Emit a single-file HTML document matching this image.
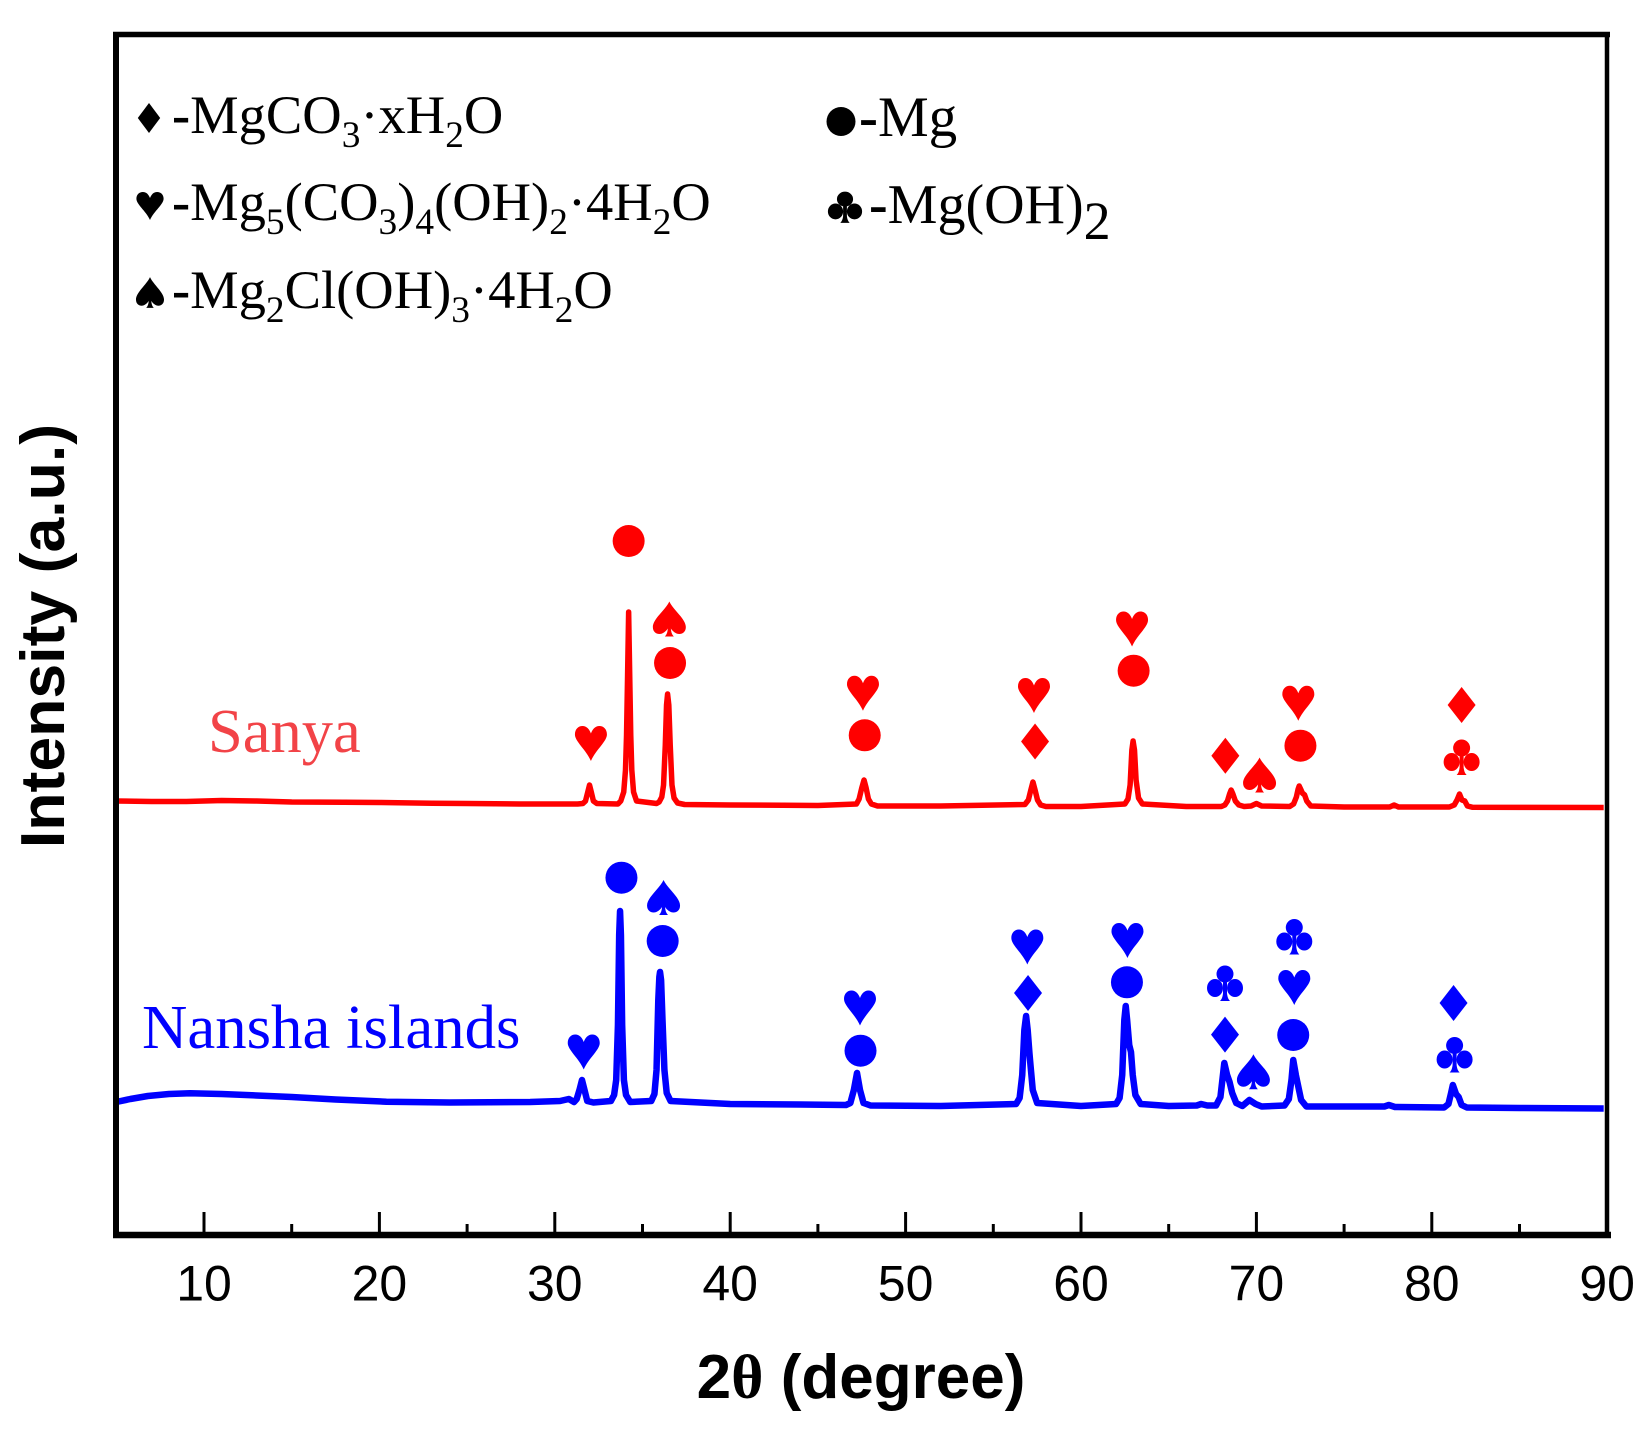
<!DOCTYPE html>
<html lang="en">
<head>
<meta charset="utf-8">
<title>XRD patterns of Sanya and Nansha islands samples</title>
<style>
html,body{margin:0;padding:0;background:#fff;}
svg{display:block;}
.serif{font-family:"Liberation Serif",serif;fill:#000;}
.sub{font-size:37px;}
</style>
</head>
<body>
<svg id="chart" xmlns="http://www.w3.org/2000/svg" width="1648" height="1435" viewBox="0 0 1648 1435">
  <rect x="0" y="0" width="1648" height="1435" fill="#fff"/>
  <g id="series-layer"></g>
  <g id="marker-layer"></g>
  <g id="axis-layer"></g>
  <g stroke="#000" fill="none">
    <line x1="113" y1="34.5" x2="1610" y2="34.5" stroke-width="5.5"/>
    <line x1="116" y1="32" x2="116" y2="1238" stroke-width="6"/>
    <line x1="1607" y1="32" x2="1607" y2="1238" stroke-width="4.5"/>
    <line x1="113" y1="1235" x2="1611" y2="1235" stroke-width="6.5"/>
  </g>

  <text transform="translate(64,636) rotate(-90)" text-anchor="middle" font-family="'Liberation Sans',sans-serif" font-weight="700" font-size="62.6" fill="#000">Intensity (a.u.)</text>
  <text x="861" y="1398" text-anchor="middle" font-family="'Liberation Sans',sans-serif" font-weight="700" font-size="62" fill="#000">2<tspan font-family="'Liberation Serif',serif">θ</tspan> (degree)</text>

  <text x="208" y="752" font-family="'Liberation Serif',serif" font-size="62.5" fill="#f24347">Sanya</text>
  <text x="142" y="1048" font-family="'Liberation Serif',serif" font-size="62.8" fill="#0000ff">Nansha islands</text>

  <g>
    <path transform="translate(149,118) scale(.8,.83)" d="M0,-18 L14,0 L0,18 L-14,0Z" fill="#000"/>
    <text class="serif" transform="translate(172,133) scale(1.01,1)" font-size="54"><tspan font-weight="700">-</tspan>MgCO<tspan class="sub" dy="14">3</tspan><tspan dy="-14">·xH</tspan><tspan class="sub" dy="14">2</tspan><tspan dy="-14">O</tspan></text>

    <path transform="translate(150,206) scale(.85,.8)" d="M0,17.5 C-5,6 -16,-2 -16,-9 C-16,-14.5 -12.5,-17.5 -8.5,-17.5 C-4,-17.5 -1.5,-14 0,-10 C1.5,-14 4,-17.5 8.5,-17.5 C12.5,-17.5 16,-14.5 16,-9 C16,-2 5,6 0,17.5Z" fill="#000"/>
    <text class="serif" transform="translate(172,220) scale(1.01,1)" font-size="54"><tspan font-weight="700">-</tspan>Mg<tspan class="sub" dy="14">5</tspan><tspan dy="-14">(CO</tspan><tspan class="sub" dy="14">3</tspan><tspan dy="-14">)</tspan><tspan class="sub" dy="14">4</tspan><tspan dy="-14">(OH)</tspan><tspan class="sub" dy="14">2</tspan><tspan dy="-14">·4H</tspan><tspan class="sub" dy="14">2</tspan><tspan dy="-14">O</tspan></text>

    <path transform="translate(150,292.5) scale(.85,.88)" d="M0,-17.5 C4,-9 16.5,0 16.5,8 C16.5,13 13,15 10,15 C6.5,15 3.5,12.5 1.5,9.5 C1.8,13 2.5,15.5 4.5,17.5 L-4.5,17.5 C-2.5,15.5 -1.8,13 -1.5,9.5 C-3.5,12.5 -6.5,15 -10,15 C-13,15 -16.5,13 -16.5,8 C-16.5,0 -4,-9 0,-17.5Z" fill="#000"/>
    <text class="serif" transform="translate(172,308) scale(1.01,1)" font-size="54"><tspan font-weight="700">-</tspan>Mg<tspan class="sub" dy="14">2</tspan><tspan dy="-14">Cl(OH)</tspan><tspan class="sub" dy="14">3</tspan><tspan dy="-14">·4H</tspan><tspan class="sub" dy="14">2</tspan><tspan dy="-14">O</tspan></text>

    <circle cx="841" cy="121.5" r="14.5" fill="#000"/>
    <text class="serif" transform="translate(859,136)" font-size="57"><tspan font-weight="700">-</tspan>Mg</text>

    <path transform="translate(845,207.5) scale(.95,.88)" d="M-8.5,-9.5 a8.5,8.5 0 1,1 17,0 a8.5,8.5 0 1,1 -17,0Z M-18,4.5 a8,9 0 1,1 16,0 a8,9 0 1,1 -16,0Z M2,4.5 a8,9 0 1,1 16,0 a8,9 0 1,1 -16,0Z M-2,-4 L2,-4 L2,10 C2.5,14 3.5,16 5,17.5 L-5,17.5 C-3.5,16 -2.5,14 -2,10Z" fill="#000"/>
    <text class="serif" transform="translate(869,223)" font-size="56"><tspan font-weight="700">-</tspan>Mg(OH)<tspan font-size="54" dy="16">2</tspan></text>
  </g>

<script>
// X axis
var xTicksMajor = [10, 20, 30, 40, 50, 60, 70, 80, 90];
var xTicksMinor = [15, 25, 35, 45, 55, 65, 75, 85];
var xTickLabels = ["10", "20", "30", "40", "50", "60", "70", "80", "90"];

// Sanya pattern
var sanyaTheta = [5, 7, 9, 11, 13, 15, 18, 20, 23, 25, 28, 30, 31.3, 31.6, 31.75, 31.88, 31.98, 32.08, 32.2, 32.4, 33.6, 33.76, 33.93, 34.03, 34.09, 34.15, 34.21, 34.27, 34.33, 34.39, 34.49, 34.66, 35.8, 35.95, 36.1, 36.2, 36.3, 36.37, 36.43, 36.5, 36.58, 36.68, 36.8, 37, 37.4, 40, 43, 45, 47.2, 47.35, 47.5, 47.63, 47.75, 47.88, 48.05, 48.4, 52, 56.8, 57, 57.14, 57.26, 57.38, 57.52, 57.7, 58, 60, 62.5, 62.68, 62.8, 62.9, 62.97, 63.05, 63.14, 63.28, 63.5, 66, 68, 68.2, 68.35, 68.47, 68.56, 68.66, 68.8, 69, 69.3, 69.7, 70.0, 70.3, 71.9, 72.12, 72.28, 72.38, 72.44, 72.52, 72.62, 72.75, 72.87, 73.1, 75, 77.6, 77.85, 78.1, 81, 81.28, 81.44, 81.58, 81.72, 81.88, 82.03, 82.3, 85, 89.8];
var sanyaIntensity = [434, 433.5, 433.5, 434.5, 434, 433, 432.8, 432.5, 431.8, 431.5, 431, 431, 431, 431.5, 434, 443, 450, 443, 434, 431.5, 431, 434, 443, 465, 500, 560, 623, 560, 500, 465, 443, 434, 431.5, 433, 438, 450, 490, 530, 541, 530, 490, 450, 437, 432, 430.5, 430, 429.8, 429.5, 431, 436, 447, 455, 447, 436, 431, 429, 429, 430.5, 435, 445, 453, 445, 435, 430, 428.5, 428.5, 431, 436, 450, 485, 494, 485, 455, 437, 431, 428.5, 428.5, 430, 434, 441, 445, 441, 434, 430, 428.5, 429, 431.5, 429, 428.5, 431, 438, 446, 449, 446, 442, 440, 434, 429, 428, 428, 430, 428, 428, 430, 435, 441, 435, 434, 429, 427.8, 427.6, 427.5];

// Nansha islands pattern
var nanshaTheta = [5, 5.8, 6.8, 8, 9.2, 11, 13, 15, 17.5, 20.4, 24, 28.6, 30.3, 30.8, 31.1, 31.25, 31.42, 31.55, 31.68, 31.85, 32.2, 33.2, 33.38, 33.5, 33.6, 33.67, 33.72, 33.77, 33.84, 33.94, 34.06, 34.3, 35.5, 35.68, 35.8, 35.9, 35.96, 36.0, 36.06, 36.14, 36.25, 36.38, 36.6, 40, 44, 46.6, 46.85, 47.05, 47.23, 47.4, 47.6, 48, 52, 56.3, 56.5, 56.65, 56.77, 56.87, 56.96, 57.06, 57.12, 57.25, 57.5, 60, 62, 62.2, 62.35, 62.47, 62.55, 62.63, 62.75, 62.85, 62.95, 63.1, 63.4, 65, 66.6, 66.85, 67.2, 67.7, 67.95, 68.17, 68.33, 68.47, 68.62, 68.85, 69.2, 69.6, 69.95, 70.3, 71.6, 71.85, 72.0, 72.1, 72.25, 72.37, 72.55, 72.85, 75, 77.3, 77.55, 77.9, 80.7, 80.95, 81.1, 81.2, 81.38, 81.53, 81.7, 82, 85, 89.8];
var nanshaIntensity = [133, 136, 139, 141, 141.7, 141, 139.5, 138, 135.5, 133.3, 132.5, 133, 134, 136, 133, 136, 146, 155, 146, 134, 132.5, 134, 140, 155, 210, 300, 324, 300, 210, 155, 140, 133, 134, 141, 165, 235, 258, 263, 255, 215, 165, 142, 134, 131, 130.5, 130, 132, 145, 162, 145, 132, 129.5, 129, 131, 137, 160, 205, 219, 205, 182, 170, 145, 132, 129, 131, 137, 160, 215, 229, 215, 190, 183, 160, 140, 131, 129, 129.5, 131, 129.5, 129.5, 138, 172, 160, 153, 142, 132, 129, 135, 131, 128.5, 129.5, 136, 155, 175, 160, 150, 135, 128.5, 128.5, 128.5, 130, 128, 127.5, 131, 142, 150, 141, 138, 130, 127.5, 127, 126.5];

// Peak annotations, Sanya
var sanyaMarkerKinds = ["circle", "spade", "circle", "heart", "heart", "circle", "heart", "diamond", "heart", "circle", "diamond", "spade", "heart", "circle", "diamond", "club"];
var sanyaMarkerTheta = [34.21, 36.53, 36.57, 32.06, 47.57, 47.67, 57.32, 57.38, 62.91, 63.0, 68.23, 70.18, 72.39, 72.51, 81.7, 81.7];
var sanyaMarkerLevel = [694, 616, 572, 491.5, 541.7, 499.7, 539.5, 493.5, 606, 564.3, 479.2, 460, 531.7, 489.3, 530, 477.5];

// Peak annotations, Nansha islands
var nanshaMarkerKinds = ["heart", "circle", "spade", "circle", "heart", "circle", "heart", "diamond", "heart", "circle", "club", "diamond", "spade", "club", "heart", "circle", "diamond", "club"];
var nanshaMarkerTheta = [31.65, 33.8, 36.2, 36.15, 47.4, 47.43, 56.94, 56.98, 62.65, 62.62, 68.21, 68.21, 69.83, 72.16, 72.16, 72.1, 81.24, 81.3];
var nanshaMarkerLevel = [183, 357.3, 337.5, 294, 227, 184.3, 288, 242, 294.5, 252.7, 251.5, 200.4, 163.3, 298, 247.5, 200, 232, 180];

var SVG_NS = "http://www.w3.org/2000/svg";

function xPos(theta) { return 204 + (theta - 10) * 17.54; }
function yPos(level) { return 1235 - level; }

var symbolPaths = {
  diamond: "M0,-18 L14,0 L0,18 L-14,0Z",
  heart: "M0,17.5 C-5,6 -16,-2 -16,-9 C-16,-14.5 -12.5,-17.5 -8.5,-17.5 C-4,-17.5 -1.5,-14 0,-10 C1.5,-14 4,-17.5 8.5,-17.5 C12.5,-17.5 16,-14.5 16,-9 C16,-2 5,6 0,17.5Z",
  spade: "M0,-17.5 C4,-9 16.5,0 16.5,8 C16.5,13 13,15 10,15 C6.5,15 3.5,12.5 1.5,9.5 C1.8,13 2.5,15.5 4.5,17.5 L-4.5,17.5 C-2.5,15.5 -1.8,13 -1.5,9.5 C-3.5,12.5 -6.5,15 -10,15 C-13,15 -16.5,13 -16.5,8 C-16.5,0 -4,-9 0,-17.5Z",
  club: "M-8.5,-9.5 a8.5,8.5 0 1,1 17,0 a8.5,8.5 0 1,1 -17,0Z M-18,4.5 a8,9 0 1,1 16,0 a8,9 0 1,1 -16,0Z M2,4.5 a8,9 0 1,1 16,0 a8,9 0 1,1 -16,0Z M-2,-4 L2,-4 L2,10 C2.5,14 3.5,16 5,17.5 L-5,17.5 C-3.5,16 -2.5,14 -2,10Z",
  circle: "M-16,0 a16,16 0 1,1 32,0 a16,16 0 1,1 -32,0Z"
};

var axisLayer = document.getElementById("axis-layer");
var seriesLayer = document.getElementById("series-layer");
var markerLayer = document.getElementById("marker-layer");

xTicksMajor.forEach(function (t, i) {
  var tick = document.createElementNS(SVG_NS, "line");
  
  
  tick.setAttribute("x1", xPos(t));
  tick.setAttribute("x2", xPos(t));
  tick.setAttribute("y1", 1212);
  tick.setAttribute("y2", 1235);
  tick.setAttribute("stroke", "#000");
  tick.setAttribute("stroke-width", 3);
  axisLayer.appendChild(tick);

  var label = document.createElementNS(SVG_NS, "text");
  
  
  label.setAttribute("x", xPos(t));
  label.setAttribute("y", 1300.5);
  label.setAttribute("text-anchor", "middle");
  label.setAttribute("font-family", "'Liberation Sans',sans-serif");
  label.setAttribute("font-size", 50);
  label.setAttribute("fill", "#000");
  label.textContent = xTickLabels[i];
  axisLayer.appendChild(label);
});

xTicksMinor.forEach(function (t) {
  var tick = document.createElementNS(SVG_NS, "line");
  
  
  tick.setAttribute("x1", xPos(t));
  tick.setAttribute("x2", xPos(t));
  tick.setAttribute("y1", 1224);
  tick.setAttribute("y2", 1235);
  tick.setAttribute("stroke", "#000");
  tick.setAttribute("stroke-width", 3);
  axisLayer.appendChild(tick);
});

function drawCurve(thetas, levels, color, name, width) {
  var pts = thetas.map(function (t, i) {
    return xPos(t).toFixed(2) + "," + yPos(levels[i]).toFixed(2);
  }).join(" ");
  var line = document.createElementNS(SVG_NS, "polyline");
  
  
  line.setAttribute("points", pts);
  line.setAttribute("fill", "none");
  line.setAttribute("stroke", color);
  line.setAttribute("stroke-width", width);
  line.setAttribute("stroke-linejoin", "round");
  seriesLayer.appendChild(line);
}

function drawMarkers(kinds, thetas, levels, color, prefix) {
  kinds.forEach(function (kind, i) {
    var mark = document.createElementNS(SVG_NS, "path");
    
    
    mark.setAttribute("d", symbolPaths[kind]);
    mark.setAttribute("fill", color);
    mark.setAttribute("transform", "translate(" + xPos(thetas[i]).toFixed(2) + "," + yPos(levels[i]).toFixed(2) + ")");
    markerLayer.appendChild(mark);
  });
}

drawCurve(sanyaTheta, sanyaIntensity, "#ff0000", "sanya-curve", 5.5);
drawCurve(nanshaTheta, nanshaIntensity, "#0000ff", "nansha-islands-curve", 6.5);
drawMarkers(sanyaMarkerKinds, sanyaMarkerTheta, sanyaMarkerLevel, "#ff0000", "sanya");
drawMarkers(nanshaMarkerKinds, nanshaMarkerTheta, nanshaMarkerLevel, "#0000ff", "nansha");
</script>
</svg>
</body>
</html>
